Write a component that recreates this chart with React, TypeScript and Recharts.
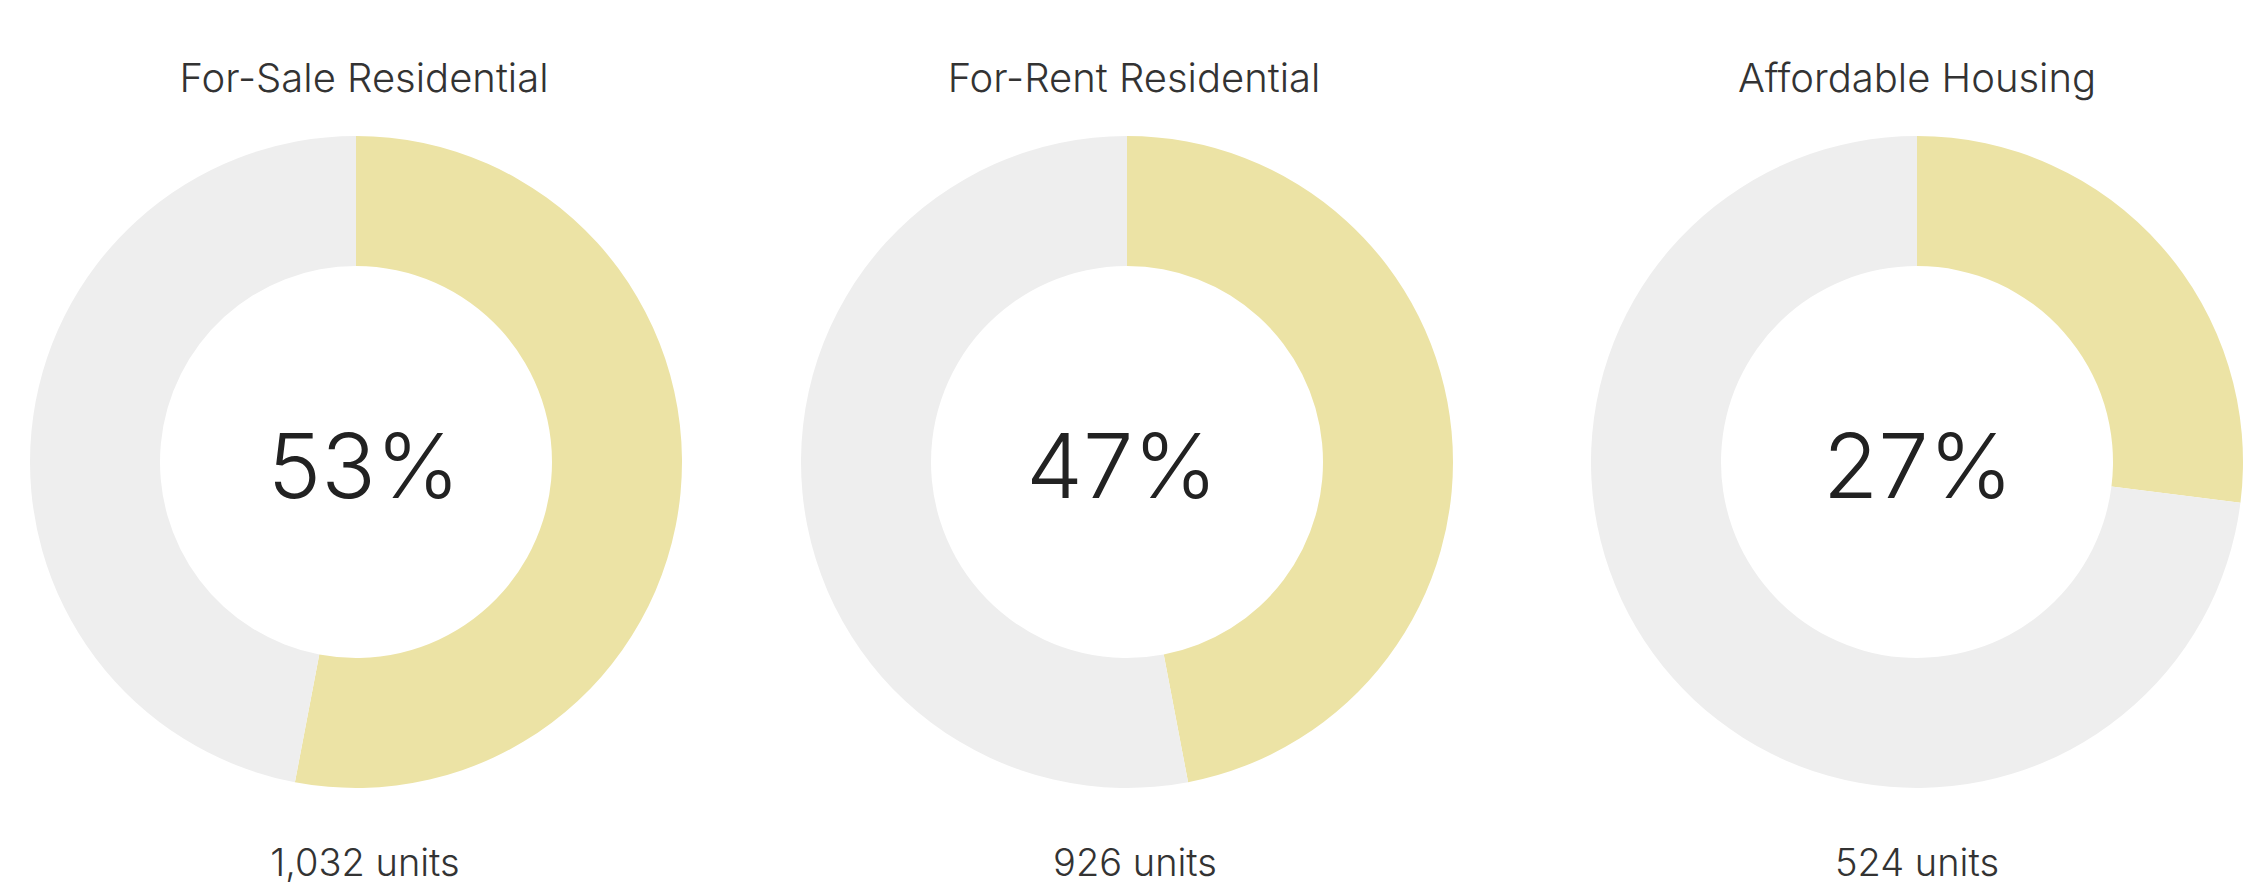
import { Cell, Pie, PieChart } from "recharts";

const categories = ["For-Sale Residential", "For-Rent Residential", "Affordable Housing"];
const shares = [53, 47, 27];
const units = [1032, 926, 524];

const W = 2245;
const H = 885;
const CY = 462;
const INNER = 196;
const OUTER = 326;
const FILL = "#ece3a5";
const TRACK = "#eeeeee";
const FONT = "Inter, 'Liberation Sans', sans-serif";

// per-donut layout: pie center x, then text center x for title / percent / units
const layout = [
  { cx: 356, title: 364, pct: 364, units: 365 },
  { cx: 1127, title: 1134, pct: 1122, units: 1135 },
  { cx: 1917, title: 1917, pct: 1918, units: 1917 },
];

const pieData = shares.map((s) => [
  { name: "share", value: s },
  { name: "rest", value: 100 - s },
]);

export default function App() {
  return (
    <div style={{ position: "absolute", left: 0, top: 0, width: W, height: H, background: "#fff" }}>
      <PieChart width={W} height={H} margin={{ top: 0, right: 0, bottom: 0, left: 0 }}>
        {pieData.map((data, i) => (
          <Pie
            key={categories[i]}
            data={data}
            dataKey="value"
            cx={layout[i].cx}
            cy={CY}
            innerRadius={INNER}
            outerRadius={OUTER}
            startAngle={90}
            endAngle={-270}
            stroke="none"
            isAnimationActive={false}
          >
            <Cell fill={FILL} />
            <Cell fill={TRACK} />
          </Pie>
        ))}
      </PieChart>
      <svg width={W} height={H} style={{ position: "absolute", left: 0, top: 0, pointerEvents: "none" }}>
        {categories.map((c, i) => (
          <g key={c} fontFamily={FONT} textAnchor="middle">
            <text x={layout[i].title} y={92} fontSize={40} fontWeight={300} fill="#333">
              {c}
            </text>
            <text x={layout[i].pct} y={498} fontSize={90} fontWeight={300} fill="#222">
              {shares[i]}%
            </text>
            <text x={layout[i].units} y={876} fontSize={38} fontWeight={300} fill="#333">
              {units[i].toLocaleString("en-US")} units
            </text>
          </g>
        ))}
      </svg>
    </div>
  );
}
